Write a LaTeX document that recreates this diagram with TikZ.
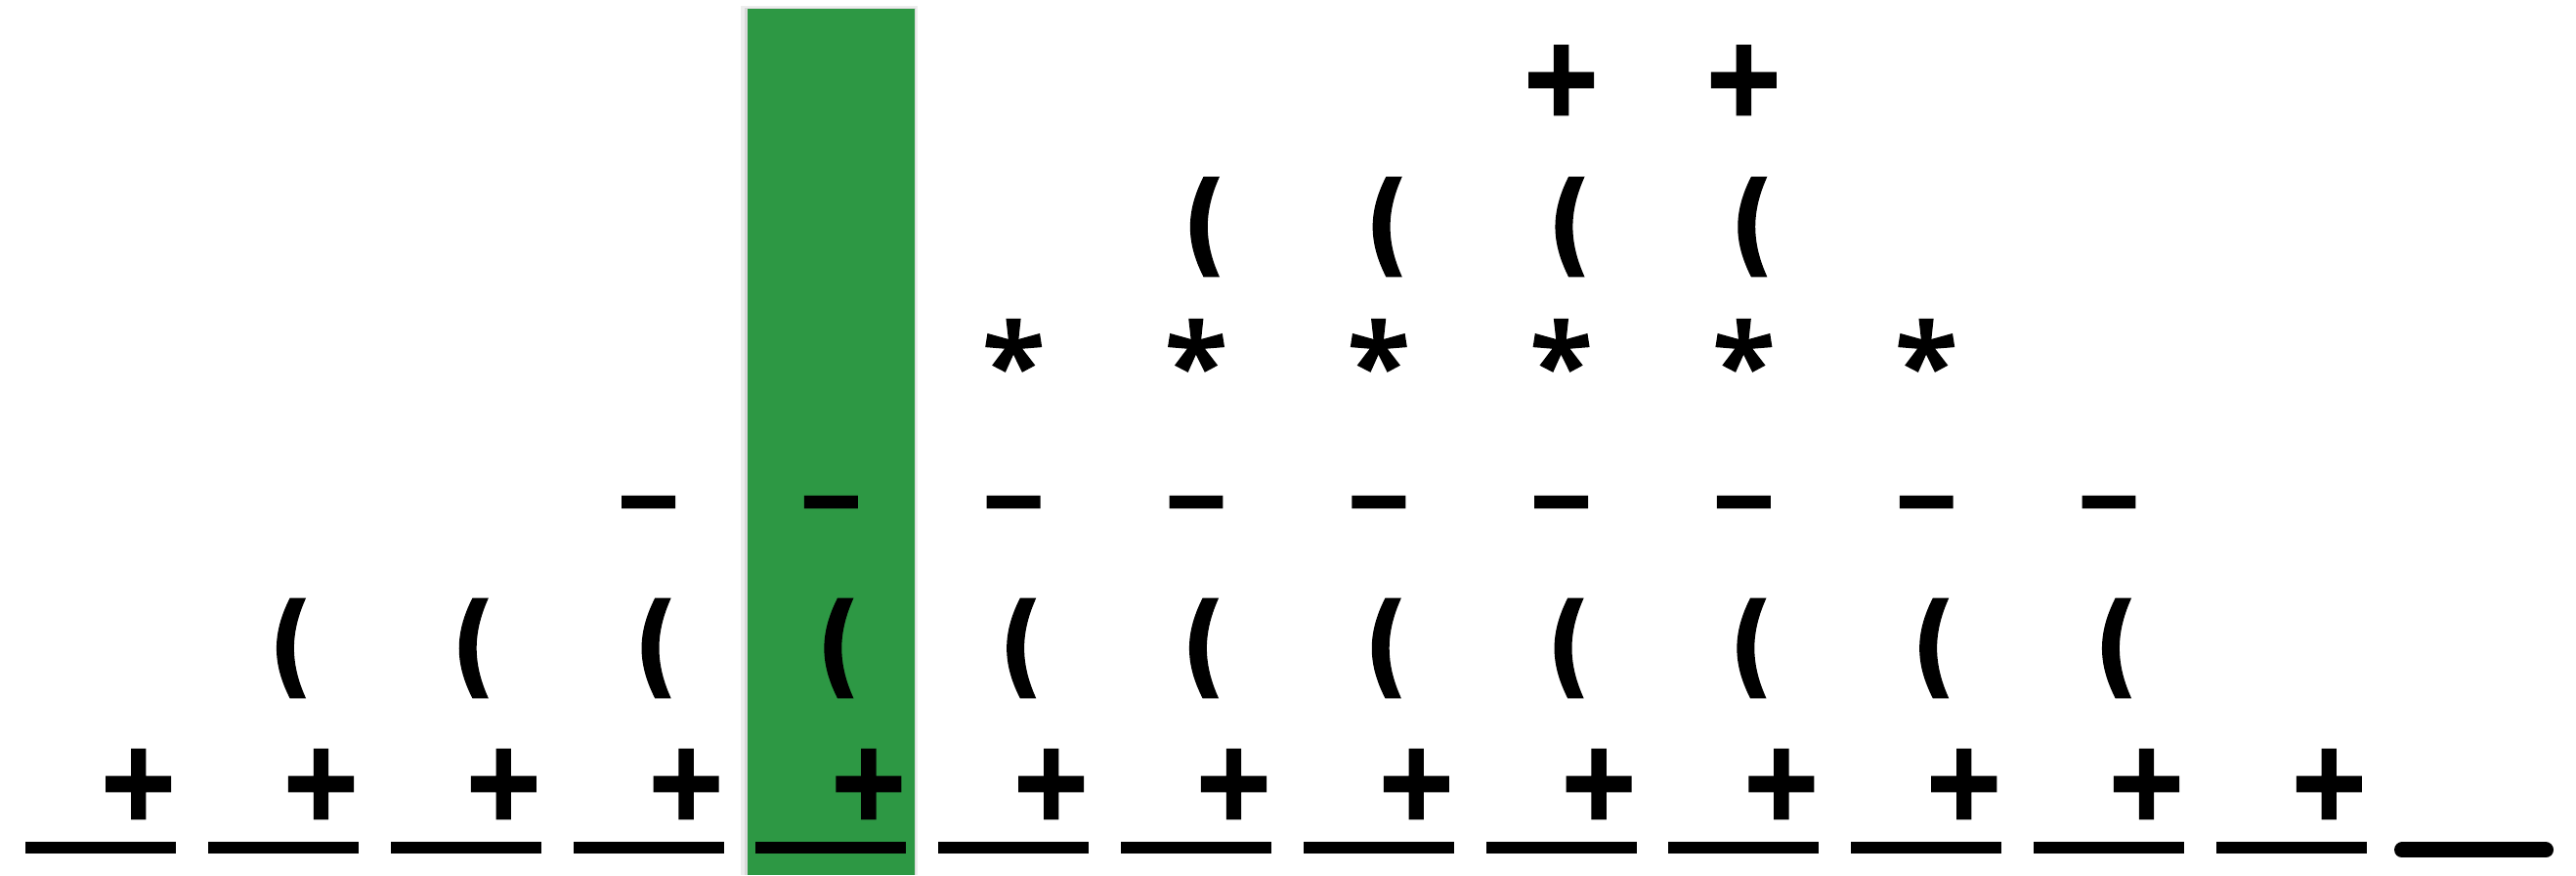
\documentclass[tikz,border=0pt]{standalone}
\usepackage{fontspec}
\usepackage{graphicx}
\newfontfamily\symfont{DejaVu Sans Bold}[FakeBold=3.5]
\newfontfamily\astfont{Noto Sans}[FakeBold=3]
\definecolor{paper}{RGB}{45,152,68}
% typeset one glyph (font #1) so that its ink box is #2 wide and #3 high
\newcommand{\inkglyph}[4]{%
  \begingroup
  #1%
  \setbox0=\hbox{#4}%
  \dimen0=\XeTeXglyphbounds1 \XeTeXcharglyph`#4\relax
  \dimen2=\XeTeXglyphbounds2 \XeTeXcharglyph`#4\relax
  \dimen4=\XeTeXglyphbounds3 \XeTeXcharglyph`#4\relax
  \dimen6=\XeTeXglyphbounds4 \XeTeXcharglyph`#4\relax
  \setbox2=\hbox{\kern-\dimen0\raise\dimen6\box0\kern-\dimen4}%
  \dimen8=\dimen2 \advance\dimen8 by \dimen6
  \ht2=\dimen8 \dp2=0pt
  \resizebox{#2}{#3}{\box2}%
  \endgroup}
\newcommand{\PLUS}{\inkglyph{\symfont}{0.635cm}{0.69cm}{+}}
\newcommand{\PAREN}{\inkglyph{\symfont}{0.26cm}{0.99cm}{(}}
\newcommand{\AST}{\inkglyph{\astfont\bfseries}{0.54cm}{0.51cm}{*}}
\newcommand{\MINUS}{\inkglyph{\symfont}{0.52cm}{0.10cm}{−}}
\begin{document}
\begin{tikzpicture}[x=1cm,y=1cm,
  glyph/.style={inner sep=0pt, outer sep=0pt, anchor=center},
  cell/.style={fill=black, inner sep=0pt, minimum width=1.54cm, minimum height=0.12cm},
  lastcell/.style={line width=0.16cm, line cap=round}]
\useasboundingbox (0,0) rectangle (26.36,8.95);
% green strip with a faint shadow
\fill[black!7] (7.58,0) rectangle (9.385,8.885);
\fill[black!15] (7.62,0) rectangle (9.37,8.87);
\fill[paper] (7.65,0) rectangle (9.36,8.86);
% bottom tape cells
\foreach \i in {0,...,12} \node[cell] (u\i) at ({1.032+1.868*\i},0.28) {};
\coordinate (u13a) at (24.58,0.255);
\coordinate (u13b) at (26.05,0.255);
\draw[lastcell] (u13a) -- (u13b);
% rows of symbols
\foreach \i in {0,...,12} \node[glyph] (bp\i) at ({1.032+1.868*\i+0.385},0.93) {\PLUS};
\foreach \i in {1,...,11} \node[glyph] (lp\i) at ({1.032+1.868*\i+0.075},2.32) {\PAREN};
\foreach \i in {3,...,11} \node[glyph] (mn\i) at ({1.032+1.868*\i},3.815) {\MINUS};
\foreach \i in {5,...,10} \node[glyph] (as\i) at ({1.032+1.868*\i},5.42) {\AST};
\foreach \i in {6,...,9} \node[glyph] (up\i) at ({1.032+1.868*\i+0.084},6.63) {\PAREN};
\foreach \i in {8,9} \node[glyph] (tp\i) at ({1.032+1.868*\i},8.13) {\PLUS};
\end{tikzpicture}
\end{document}
